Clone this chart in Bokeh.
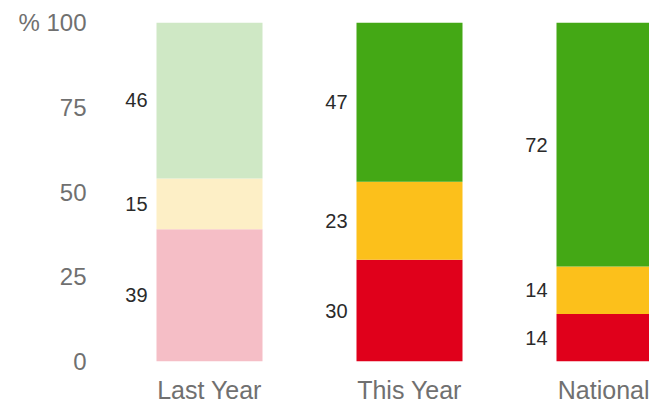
import numpy as np
from bokeh.plotting import figure
from bokeh.models import ColumnDataSource, Range1d, FixedTicker
from bokeh.core.properties import value
from bokeh.embed import file_html
from bokeh.resources import INLINE

# ---- data ----
categories = ["Last Year", "This Year", "National"]
red_vals = [39, 30, 14]
amber_vals = [15, 23, 14]
green_vals = [46, 47, 72]
y_ticks = [0, 25, 50, 75, 100]
y_tick_labels = ["0", "25", "50", "75", "% 100"]

# ---- styles ----
palette = {
    "red": ["#f5bec6", "#e0001b", "#e0001b"],
    "amber": ["#fdefc6", "#fcc01b", "#fcc01b"],
    "green": ["#cfe8c5", "#44a815", "#44a815"],
}
BAR_W = 0.53
FONT = "Liberation Sans"

p = figure(width=649, height=406, output_backend="svg", toolbar_location=None,
           x_range=Range1d(-0.545, 2.2), y_range=Range1d(0, 100),
           min_border_left=100, min_border_right=0, min_border_top=22,
           min_border_bottom=45)
p.outline_line_color = None
p.xgrid.visible = False
p.ygrid.visible = False
p.background_fill_color = "white"
p.border_fill_color = "white"

xs = np.arange(len(categories))
bottom = np.zeros(len(categories))
for name, vals in [("red", red_vals), ("amber", amber_vals), ("green", green_vals)]:
    vals = np.array(vals, dtype=float)
    top = bottom + vals
    src = ColumnDataSource(dict(x=xs, bottom=bottom, top=top,
                                color=palette[name],
                                lx=xs - BAR_W / 2, ly=bottom + vals / 2,
                                txt=[str(int(v)) for v in vals]))
    p.vbar(x="x", width=BAR_W, bottom="bottom", top="top", source=src,
           fill_color="color", line_color=None)
    p.text(x="lx", y="ly", text="txt", source=src, x_offset=-9,
           text_align="right", text_baseline="middle",
           text_font=value(FONT), text_font_size="20px", text_color="#2a2a2a")
    bottom = top

p.xaxis.ticker = FixedTicker(ticks=list(xs))
p.xaxis.major_label_overrides = {int(i): c for i, c in zip(xs, categories)}
p.yaxis.ticker = FixedTicker(ticks=y_ticks)
p.yaxis.major_label_overrides = {t: l for t, l in zip(y_ticks, y_tick_labels)}

for ax in (p.xaxis, p.yaxis):
    ax.axis_line_color = None
    ax.major_tick_line_color = None
    ax.minor_tick_line_color = None
    ax.major_label_text_font = FONT
    ax.major_label_text_color = "#707070"
p.yaxis.major_label_text_font_size = "24px"
p.xaxis.major_label_text_font_size = "25px"
p.xaxis.major_label_standoff = 8
p.yaxis.major_label_standoff = 8

open("out.html", "w").write(file_html(p, INLINE))
